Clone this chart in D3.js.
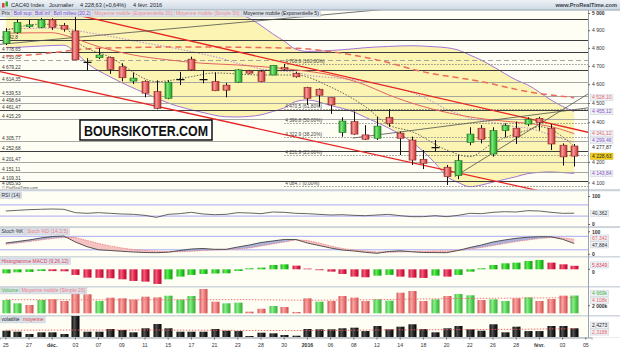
<!DOCTYPE html>
<html>
<head>
<meta charset="utf-8">
<title>CAC40 Index</title>
<script src="https://cdn.jsdelivr.net/npm/d3@7/dist/d3.min.js"></script>
<style>
  body { margin: 0; background: #fff; }
  svg { display: block; font-family: "Liberation Sans", Arial, sans-serif; }
</style>
</head>
<body>
<div class="canvas"></div>
<script>
//=============== data ===============//
const days = ['25/11','26/11','27/11','30/11','01/12','02/12','03/12','04/12','07/12','08/12',
  '09/12','10/12','11/12','14/12','15/12','16/12','17/12','18/12','21/12','22/12',
  '23/12','24/12','28/12','29/12','30/12','31/12','04/01','05/01','06/01','07/01',
  '08/01','11/01','12/01','13/01','14/01','15/01','18/01','19/01','20/01','21/01',
  '22/01','25/01','26/01','27/01','28/01','29/01','01/02','02/02','03/02','04/02','05/02'];

const open  = [4826,4886,4921,4917,4960,4927,4896,4722,4745,4747, 4695,4617,4615,4560,4525,4622,4737,4628,4615,4595,
               4611,4672,4668,4650,4690,4659,4582,4573,4528,4347, 4403,4335,4318,4425,4344,4309,4213,4273,4174,4133,
               4297,4369,4239,4357,4369,4390,4420,4369,4283,4279];
const high  = [4912,4964,4960,4971,4969,4942,4989,4742,4798,4751, 4714,4662,4621,4621,4621,4667,4751,4678,4664,4607,
               4682,4678,4678,4705,4710,4668,4586,4577,4530,4425, 4455,4385,4428,4468,4352,4326,4259,4309,4185,4234,
               4374,4385,4374,4394,4403,4425,4428,4390,4292,4289];
const low   = [4816,4879,4913,4912,4902,4892,4731,4674,4737,4656, 4615,4601,4530,4467,4520,4595,4672,4605,4563,4530,
               4607,4654,4611,4649,4674,4635,4490,4481,4443,4326, 4335,4309,4309,4376,4234,4185,4165,4251,4088,4116,
               4283,4292,4226,4323,4289,4380,4357,4259,4182,4177];
const close = [4892,4946,4931,4960,4917,4906,4733,4719,4760,4681, 4635,4633,4552,4472,4611,4625,4678,4625,4565,4568,
               4678,4660,4615,4703,4682,4640,4525,4541,4490,4406, 4339,4313,4380,4394,4318,4209,4193,4271,4128,4206,
               4339,4313,4357,4382,4326,4415,4398,4289,4225,4228.63];

// volume in millions
const volume = [3.5,2.63,2.18,3.5,3.68,3.24,5.42,5.0,3.24,4.1, 3.95,3.6,4.37,4.2,4.63,3.6,4.55,6.4,3.05,2.63,
                2.8,0.43,1.2,1.92,1.66,0.35,3.95,3.06,3.24,4.55, 4.12,3.24,3.68,3.33,5.42,5.87,3.24,3.68,4.55,5.08,
                4.74,3.51,3.68,3.24,3.95,4.2,3.24,3.77,4.64,4.669];
const volumeAvg = [[0,3.6],[10,3.55],[20,3.6],[26,3.45],[32,3.6],[38,3.85],[44,4.0],[49,4.108]];

const volatility = [1.76,1.48,0.84,1.31,1.31,0.84,5.87,1.48,1.48,2.23, 1.96,1.31,2.43,3.63,2.43,1.48,1.48,1.48,2.23,1.76,
                    1.66,0.28,1.2,1.03,0.56,0.36,2.23,2.15,2.15,2.43, 2.6,1.66,3.07,2.15,2.88,3.55,2.23,1.31,2.43,3.07,
                    2.15,1.76,3.55,1.31,2.88,1.66,1.66,3.07,3.07,2.4273];
const volatilityAvg = [[0,1.9],[10,1.95],[20,1.85],[26,1.8],[32,1.95],[38,2.05],[44,2.15],[49,2.3188]];

const macdHist = [-6.7,-5,-4.4,-2.8,-3,-3.3,-9.4,-13.9,-14.2,-15, -16.7,-19.4,-20.6,-24.4,-16.7,-12.2,-9.4,-7.8,-7,-6.7,
                  -2.8,1.7,2.8,7.2,8.3,6.1,1.2,-1.5,-3.9,-7.8, -12.2,-13.3,-10.6,-9.4,-12.2,-13.9,-14.4,-10.6,-12.2,-9.4,
                  -3.9,1.7,7.2,10,11.1,13.9,15.6,11.1,8.3,5.8349];

const rsi = [48.2,50.6,53,54.2,55.4,54.2,42.3,39.9,42.3,39.9, 37.5,36.3,32.7,25.6,36.3,38.7,43.5,37.5,35.1,36.3,
             42.3,41.1,38.7,44.6,43.5,39.9,38.7,36.3,33.9,35.1, 32.7,31.5,33.9,36.3,31.5,28,28,31.5,28,32.7,
             39.9,38.7,43.5,45.8,44.6,49.4,48.2,43.5,39.9,40.362];

const stochK = [50.2,56.9,63.6,72.4,79.1,81.3,54.7,33.8,20,16.9, 13.3,10.2,8,7.1,9.3,16.9,23.6,25.8,22.2,22.2,
                32.4,41.3,52.4,59.1,65.8,65.8,50.2,39.1,28,19.1, 14.7,8.9,4.4,12.4,15.6,11.1,8,7.6,7.1,16.9,
                30.2,41.3,54.7,63.6,71.1,75.6,78.2,77.8,66.7,47.884];
const stochD = [44.4,50.2,56.9,63.6,70.2,74.7,74.7,61.3,48,36.9, 28,21.3,16.9,13.3,11.6,11.1,13.8,16.9,19.1,21.3,
                23.6,28,36.9,45.8,54.7,63.6,61.3,50.2,36.9,25.8, 19.1,14.7,10.2,8.9,10.2,12.4,13.8,14.7,14.7,16.9,
                23.6,30.2,39.1,48,56.9,63.6,70.2,74.7,72.4,67.342];

// Bollinger (20,2) read on a common set of days
const bollIdx = [0,3,5,6,7,9,12,14,17,19,20,21,22,23,24,25,26,28,30,31,33,35,37,38,39,40,41,42,44,45,47,48,49];
const bollSup = [5010,5015,5010,5030,5060,5090,5105,5110,5080,5040,5000,4969,4927,4880,4838,4792,4780,4785,4795,4801,
                 4808,4812,4806,4801,4788,4760,4731,4696,4623,4596,4516,4482,4455.12];
const bollInf = [4800,4810,4815,4775,4715,4640,4552,4500,4450,4428,4427,4430,4438,4455,4474,4508,4516,4487,4453,4425,
                 4370,4299,4195,4130,4100,4080,4088,4102,4128,4143,4151,4148,4143.84];
const bollMid = [4905,4912,4912,4900,4888,4865,4828,4805,4765,4734,4713,4700,4683,4676,4670,4665,4650,4636,4624,4613,
                 4589,4556,4500,4466,4444,4420,4410,4399,4376,4370,4334,4315,4299.46];

const ema5  = [[0,4900],[3,4935],[5,4925],[6,4844],[9,4748],[13,4614],[16,4641],[18,4661],[22,4650],[25,4650],
               [28,4585],[31,4480],[33,4386],[35,4352],[38,4259],[40,4226],[42,4294],[45,4360],[46,4377],[49,4277.87]];
const ema20 = [[0,4883],[4,4886],[5,4873],[8,4807],[11,4760],[14,4733],[17,4714],[20,4705],[22,4696],[25,4678],
               [28,4650],[31,4596],[33,4543],[36,4481],[39,4438],[42,4411],[45,4394],[47,4377],[49,4341.12]];
const sma50 = [[0,4755],[2,4760],[7,4794],[8,4798],[16,4805],[25,4798],[28,4779],[32,4733],[36,4667],[41,4614],
               [45,4560],[49,4528.10]];

// support / resistance levels drawn on the chart
const levels = [4966,4842.8,4778.65,4733.05,4679.22,4614.35,4539.53,4498.64,4461.47,4415.29,
                4305.77,4252.68,4201.47,4151.11,4109.31,4065.93];
const levelLabels = ['','4 842,8','4 778,65','4 733,05','4 679,22','4 614,35','4 539,53','4 498,64','4 461,47','4 415,29',
                     '4 305,77','4 252,68','4 201,47','4 151,11','4 109,31','4 065,93'];

// Fibonacci retracement from the 30/12 high to the 20/01 low
const fibValues = [4708.9,4470.5,4396.8,4322.9,4231.9,4084.7];
const fibLabels = ['4 708,9 (100,00%)','4 470,5 (61,80%)','4 396,8 (50,00%)','4 322,9 (38,20%)','4 231,9 (23,60%)','4 084,7 (0,00%)'];

// trend lines: [day index, price] pairs
const redTrends  = [[[6.2,4988],[50.8,4340]], [[-0.5,4668],[46,4060]]];
const greyTrends = [[[-0.5,4820],[34,5030]], [[29.9,4319],[50.8,4479]], [[38.7,4128],[50.5,4560]]];

const tickDays   = ['25/11','27/11','01/12','03/12','07/12','09/12','11/12','15/12','17/12','21/12','23/12','28/12','30/12',
                    '04/01','06/01','08/01','12/01','14/01','18/01','20/01','22/01','26/01','28/01','01/02','03/02','05/02'];
const tickLabels = ['25','27','déc.','03','07','09','11','15','17','21','23','28','30',
                    '2016','06','08','12','14','18','20','22','26','28','févr.','03','05'];
const priceTicks = [5000,4900,4800,4700,4600,4500,4400,4200,4100];

//=============== set up ===============//
const W = 620, H = 349, plotR = 588;
const svg = d3.select('.canvas').append('svg').attr('width', W).attr('height', H);
const fr = d3.formatLocale({ decimal: ',', thousands: '\u00a0', grouping: [3], currency: ['', ''] });
const fmt0 = fr.format(',.0f');

const panels = {
  main: [10.5, 189.5], rsi: [191.5, 226.5], stoch: [228, 256.5],
  macd: [257.5, 286.5], vol: [287.5, 315.5], vola: [316.5, 337.5]
};

const x = d3.scaleBand().domain(days).range([0, days.length * 11.6]).padding(0);
const xc = i => x(days[i]) + x.bandwidth() / 2;
const xIdx = d3.scaleLinear().domain([0, days.length - 1]).range([xc(0), xc(days.length - 1)]);

const yMain = d3.scaleLog().domain([4100, 5000]).range([182.5, 13]);
const yRsi  = d3.scaleLinear().domain([0, 100]).range([224.5, 196.5]);
const ySto  = d3.scaleLinear().domain([0, 100]).range([254.3, 231.8]);
const yMacd = d3.scaleLinear().domain([-25, 15]).range([284.3, 260.3]);
const yVol  = d3.scaleLinear().domain([0, 7]).range([313.3, 286.7]);
const yVola = d3.scaleLinear().domain([0, 6]).range([337, 315.5]);

const defs = svg.append('defs');
function hGrad(id, stops) {
  const g = defs.append('linearGradient').attr('id', id).attr('x1', 0).attr('x2', 1).attr('y1', 0).attr('y2', 0);
  stops.forEach((c, k) => g.append('stop').attr('offset', k / (stops.length - 1)).attr('stop-color', c));
}
hGrad('gGreen', ['#2c9a2c', '#7ee87e', '#45c845', '#2a952a']);
hGrad('gRed', ['#c23a3a', '#f49a9a', '#e46262', '#b83434']);
hGrad('vGreen', ['#3fb83f', '#8cf08c', '#55d055', '#3aa83a']);
hGrad('vRed', ['#d05050', '#f8a8a8', '#ee7a7a', '#c84848']);
hGrad('mGreen', ['#1faa1f', '#66ee55', '#22cc22', '#159515']);
hGrad('mRed', ['#c0103a', '#f2607a', '#e0204a', '#b00a30']);
hGrad('kBlack', ['#000', '#555', '#222', '#000']);
const tg = defs.append('linearGradient').attr('id', 'gTitle').attr('x1', 0).attr('x2', 0).attr('y1', 0).attr('y2', 1);
tg.append('stop').attr('offset', 0).attr('stop-color', '#eef2f6');
tg.append('stop').attr('offset', 1).attr('stop-color', '#cdd8e3');
defs.append('clipPath').attr('id', 'clipMain').append('rect')
  .attr('x', 0).attr('y', panels.main[0]).attr('width', plotR).attr('height', panels.main[1] - panels.main[0]);

// backgrounds
svg.append('rect').attr('width', W).attr('height', H).attr('fill', '#e3e8ee');
Object.values(panels).forEach(([t, b]) => {
  svg.append('rect').attr('x', 0).attr('y', t).attr('width', plotR).attr('height', b - t)
    .attr('fill', '#fefef4');
  svg.append('rect').attr('x', plotR).attr('y', t).attr('width', W - plotR).attr('height', b - t)
    .attr('fill', '#ffffff');
  svg.append('line').attr('x1', 0).attr('x2', W).attr('y1', b + 0.5).attr('y2', b + 0.5).attr('stroke', '#b4bcc6');
});
svg.append('rect').attr('x', 0).attr('y', 337.5).attr('width', W).attr('height', 11.5).attr('fill', '#fff');
svg.append('line').attr('x1', plotR + 0.5).attr('x2', plotR + 0.5).attr('y1', 10).attr('y2', 338).attr('stroke', '#9aa2ac');

// title bar
svg.append('rect').attr('width', W).attr('height', 10).attr('fill', 'url(#gTitle)');
svg.append('line').attr('x1', 0).attr('x2', W).attr('y1', 10).attr('y2', 10).attr('stroke', '#9aa8b6');
svg.append('rect').attr('x', 2).attr('y', 3).attr('width', 2.5).attr('height', 4.5).attr('fill', '#e04040');
svg.append('rect').attr('x', 5.5).attr('y', 1.5).attr('width', 2.5).attr('height', 5).attr('fill', '#30b030');
const title = svg.append('g').attr('font-size', 5.6).attr('fill', '#1d2630');
[['CAC40 Index', 11], ['Journalier', 49], ['4 228,63 (+0,64%)', 80], ['4 févr. 2016', 133]]
  .forEach(([t, px]) => title.append('text').attr('x', px).attr('y', 7).text(t));
svg.append('text').attr('x', 617).attr('y', 7.2).attr('text-anchor', 'end').attr('font-size', 5.6)
  .attr('font-weight', 'bold').attr('fill', '#3a4350').text('www.ProRealTime.com');

//=============== main price panel ===============//
const gMain = svg.append('g').attr('clip-path', 'url(#clipMain)');
const line = (sx, sy) => d3.line().x(d => sx(d[0])).y(d => sy(d[1]));

// Bollinger fill and bands
const bk = d3.range(bollIdx.length);
gMain.append('path').datum(bk)
  .attr('d', d3.area().curve(d3.curveMonotoneX).x(k => xc(bollIdx[k]))
    .y0(k => yMain(bollInf[k])).y1(k => yMain(bollSup[k])))
  .attr('fill', '#fcf4b2');
[bollSup, bollInf].forEach(arr => gMain.append('path').datum(bk)
  .attr('d', d3.line().curve(d3.curveMonotoneX).x(k => xc(bollIdx[k])).y(k => yMain(arr[k])))
  .attr('fill', 'none').attr('stroke', '#a374d6').attr('stroke-width', 1));
gMain.append('path').datum(bk)
  .attr('d', d3.line().curve(d3.curveMonotoneX).x(k => xc(bollIdx[k])).y(k => yMain(bollMid[k])))
  .attr('fill', 'none').attr('stroke', '#b48ad8').attr('stroke-width', 1).attr('stroke-dasharray', '1.5,1.5');

// horizontal levels
const darkLevels = new Set([4966, 4842.8, 4778.65, 4679.22, 4461.47, 4252.68, 4109.31]);
levels.forEach((v, k) => {
  const yy = Math.round(yMain(v)) + 0.5;
  gMain.append('line').attr('x1', 0).attr('x2', plotR).attr('y1', yy).attr('y2', yy)
    .attr('stroke', v === 4733.05 ? '#9a9a9a' : darkLevels.has(v) ? '#3c3c3c' : '#9c9c9c')
    .attr('stroke-width', darkLevels.has(v) ? 1 : 0.9)
    .attr('stroke-dasharray', v === 4733.05 ? '5,3' : null);
  if (levelLabels[k]) gMain.append('text').attr('x', 2).attr('y', Math.min(yy - 1.6, 185))
    .attr('font-size', 4.8).attr('fill', '#333').text(levelLabels[k]);
});

// Fibonacci
fibValues.forEach((v, k) => {
  const yy = Math.round(yMain(v)) + 0.5;
  gMain.append('line').attr('x1', xc(24)).attr('x2', plotR).attr('y1', yy).attr('y2', yy)
    .attr('stroke', '#777').attr('stroke-width', 0.8).attr('stroke-dasharray', '1.5,1.5');
  gMain.append('text').attr('x', xc(24) + 1).attr('y', yy - 1.6).attr('font-size', 4.8)
    .attr('fill', '#444').text(fibLabels[k]);
});

// moving averages
gMain.append('path').datum(sma50).attr('d', line(xIdx, yMain).curve(d3.curveMonotoneX))
  .attr('fill', 'none').attr('stroke', '#ec6a5e').attr('stroke-width', 1.5).attr('stroke-dasharray', '6,4');
gMain.append('path').datum(ema20).attr('d', line(xIdx, yMain).curve(d3.curveMonotoneX))
  .attr('fill', 'none').attr('stroke', '#e46464').attr('stroke-width', 1);
gMain.append('path').datum(ema5).attr('d', line(xIdx, yMain).curve(d3.curveMonotoneX))
  .attr('fill', 'none').attr('stroke', '#555').attr('stroke-width', 0.9).attr('stroke-dasharray', '1.5,1.5');

// trend lines
redTrends.forEach(t => gMain.append('path').datum(t).attr('d', line(xIdx, yMain))
  .attr('stroke', '#e82424').attr('stroke-width', 1.3).attr('fill', 'none'));
greyTrends.forEach(t => gMain.append('path').datum(t).attr('d', line(xIdx, yMain))
  .attr('stroke', '#505050').attr('stroke-width', 0.8).attr('fill', 'none'));

// candles
const candle = gMain.selectAll('g.candle').data(d3.range(close.length)).join('g').attr('class', 'candle');
candle.append('line')
  .attr('x1', i => Math.round(xc(i)) + 0.5).attr('x2', i => Math.round(xc(i)) + 0.5)
  .attr('y1', i => yMain(high[i])).attr('y2', i => yMain(low[i]))
  .attr('stroke', '#111').attr('stroke-width', 1);
candle.each(function (i) {
  const g = d3.select(this);
  const yo = yMain(open[i]), yc = yMain(close[i]);
  const cx = Math.round(xc(i)) + 0.5;
  if (Math.abs(yo - yc) < 1) {
    g.append('line').attr('x1', cx - 4).attr('x2', cx + 4).attr('y1', yc).attr('y2', yc)
      .attr('stroke', '#111').attr('stroke-width', 1.2);
  } else {
    const up = close[i] > open[i];
    g.append('rect').attr('x', cx - 3.5).attr('width', 7)
      .attr('y', Math.min(yo, yc)).attr('height', Math.abs(yo - yc))
      .attr('fill', up ? 'url(#gGreen)' : 'url(#gRed)')
      .attr('stroke', up ? '#1f6f1f' : '#8a2222').attr('stroke-width', 0.6);
  }
});

// watermark
svg.append('rect').attr('x', 80).attr('y', 120).attr('width', 132).attr('height', 20)
  .attr('fill', '#fff').attr('stroke', '#111').attr('stroke-width', 1.5);
svg.append('text').attr('x', 84).attr('y', 136).attr('font-size', 15).attr('font-weight', 'bold')
  .attr('textLength', 124).attr('lengthAdjust', 'spacingAndGlyphs').attr('fill', '#111').text('BOURSIKOTER.COM');
svg.append('text').attr('x', 2).attr('y', 189.2).attr('font-size', 4).attr('fill', '#555').text('© ProRealTime.com');

//=============== RSI ===============//
const gRsi = svg.append('g');
[70, 30].forEach(v => gRsi.append('line').attr('x1', 0).attr('x2', plotR)
  .attr('y1', yRsi(v)).attr('y2', yRsi(v)).attr('stroke', '#a8a8f4').attr('stroke-width', 1));
gRsi.append('path').datum(rsi).attr('d', d3.line().x((d, i) => xc(i)).y(d => yRsi(d)))
  .attr('fill', 'none').attr('stroke', '#555').attr('stroke-width', 0.9);

//=============== Stochastic ===============//
const gSto = svg.append('g');
[80, 20].forEach(v => gSto.append('line').attr('x1', 0).attr('x2', plotR)
  .attr('y1', ySto(v)).attr('y2', ySto(v)).attr('stroke', '#a8a8f4').attr('stroke-width', 1));
const sk = d3.range(stochK.length);
gSto.append('path').datum(sk)
  .attr('d', d3.area().x(i => xc(i)).y0(i => ySto(stochD[i])).y1(i => ySto(Math.max(stochK[i], stochD[i]))))
  .attr('fill', '#9da4d6').attr('opacity', 0.85);
gSto.append('path').datum(sk)
  .attr('d', d3.area().x(i => xc(i)).y0(i => ySto(stochK[i])).y1(i => ySto(Math.max(stochK[i], stochD[i]))))
  .attr('fill', '#f4bcbc').attr('opacity', 0.9);
gSto.append('path').datum(stochD).attr('d', d3.line().x((d, i) => xc(i)).y(d => ySto(d)))
  .attr('fill', 'none').attr('stroke', '#ee8080').attr('stroke-width', 0.9).attr('stroke-dasharray', '1.5,1');
gSto.append('path').datum(stochK).attr('d', d3.line().x((d, i) => xc(i)).y(d => ySto(d)))
  .attr('fill', 'none').attr('stroke', '#444').attr('stroke-width', 0.9);

//=============== MACD histogram ===============//
const gMacd = svg.append('g');
gMacd.selectAll('rect').data(macdHist).join('rect')
  .attr('x', (d, i) => Math.round(xc(i)) - 3.5).attr('width', 8)
  .attr('y', d => Math.min(yMacd(d), yMacd(0))).attr('height', d => Math.abs(yMacd(d) - yMacd(0)))
  .attr('fill', (d, i) => (i === 0 || d >= macdHist[i - 1]) ? 'url(#mGreen)' : 'url(#mRed)');

//=============== Volume ===============//
const gVol = svg.append('g');
gVol.selectAll('rect').data(volume).join('rect')
  .attr('x', (d, i) => Math.round(xc(i)) - 3.5).attr('width', 8)
  .attr('y', d => yVol(d)).attr('height', d => yVol(0) - yVol(d))
  .attr('fill', (d, i) => (i === 0 || close[i] >= close[i - 1]) ? 'url(#vGreen)' : 'url(#vRed)');
gVol.append('path').datum(volumeAvg).attr('d', line(xIdx, yVol).curve(d3.curveMonotoneX))
  .attr('fill', 'none').attr('stroke', '#ee6a6a').attr('stroke-width', 0.9).attr('stroke-dasharray', '1.5,1.5');

//=============== Volatility ===============//
const gVola = svg.append('g');
gVola.selectAll('rect').data(volatility).join('rect')
  .attr('x', (d, i) => Math.round(xc(i)) - 3.5).attr('width', 8)
  .attr('y', d => yVola(d)).attr('height', d => yVola(0) - yVola(d))
  .attr('fill', 'url(#kBlack)');
gVola.append('path').datum(volatilityAvg).attr('d', line(xIdx, yVola).curve(d3.curveMonotoneX))
  .attr('fill', 'none').attr('stroke', '#ee5a5a').attr('stroke-width', 0.9).attr('stroke-dasharray', '1.5,1.5');

//=============== legends ===============//
function legend(y0, items) {
  const g = svg.append('g');
  let px = 0;
  items.forEach(([txt, col]) => {
    const t = g.append('text').attr('x', px + 1.5).attr('y', y0 + 4.9).attr('font-size', 5).attr('fill', col).text(txt);
    const w = t.node().getComputedTextLength() + 3;
    g.insert('rect', () => t.node()).attr('x', px).attr('y', y0).attr('width', w).attr('height', 6.4)
      .attr('fill', '#dbe2eb').attr('stroke', '#c2cad4').attr('stroke-width', 0.5);
    px += w + 0.5;
  });
}
legend(10.5, [['Prix', '#333'], ['Boll sup', '#8048c8'], ['Boll inf', '#8048c8'], ['Boll milieu (20,2)', '#8048c8'],
  ['Moyenne mobile (Exponentielle 20)', '#f08a8a'], ['Moyenne mobile (Simple 50)', '#f08a8a'],
  ['Moyenne mobile (Exponentielle 5)', '#222']]);
legend(192, [['RSI (14)', '#333']]);
legend(228.5, [['Stoch %K', '#333'], ['Stoch %D (14,3,5)', '#f07a7a']]);
legend(258, [['Histogramme MACD (9,26,12)', '#e0405a']]);
legend(287.5, [['Volume', '#3cb43c'], ['Moyenne mobile (Simple 20)', '#f07a7a']]);
legend(316.5, [['volatilité', '#222'], ['moyenne', '#e04040']]);

//=============== right axes ===============//
const axisMain = svg.append('g').attr('transform', `translate(${plotR},0)`)
  .call(d3.axisRight(yMain).tickValues(priceTicks).tickFormat(fmt0).tickSize(2));
axisMain.select('.domain').remove();
axisMain.selectAll('text').attr('font-size', 5).attr('fill', '#333').attr('x', 4)
  .attr('font-weight', d => d === 5000 ? 'bold' : null);
axisMain.selectAll('line').attr('stroke', '#666');

function simpleTicks(scale, vals, labels, dy) {
  vals.forEach((v, k) => {
    svg.append('line').attr('x1', plotR).attr('x2', plotR + 2).attr('y1', scale(v)).attr('y2', scale(v)).attr('stroke', '#666');
    svg.append('text').attr('x', plotR + 4).attr('y', scale(v) + 1.8 + (dy || 0)).attr('font-size', 5)
      .attr('font-weight', 'bold').attr('fill', '#333').text(labels[k]);
  });
}
simpleTicks(yRsi, [100, 0], ['100', '0']);
simpleTicks(ySto, [100, 0], ['100', '0']);
simpleTicks(yMacd, [0], ['0'], 2.6);
simpleTicks(yVol, [2], ['2 000k']);

// value tags on the right; dy nudges a tag off a neighbouring tick label
function valueBoxes(items) {
  items.forEach(d => { d.y = d.scale(d.v) + (d.dy || 0); });
  items.sort((a, b) => a.y - b.y);
  for (let it = 0; it < 6; it++) {
    for (let k = 1; k < items.length; k++) {
      const gap = items[k].y - items[k - 1].y;
      if (gap < 6.8) { const m = (6.8 - gap) / 2; items[k].y += m; items[k - 1].y -= m; }
    }
  }
  items.forEach(d => {
    const t = svg.append('text').attr('x', plotR + 4).attr('y', d.y + 1.8).attr('font-size', 5)
      .attr('fill', d.color).text(d.text);
    const w = t.node().getComputedTextLength() + 3;
    svg.insert('rect', () => t.node()).attr('x', plotR + 2.5).attr('y', d.y - 3).attr('width', w).attr('height', 6.2)
      .attr('fill', d.bg || '#eef1f5').attr('stroke', d.border || '#c8ced6').attr('stroke-width', 0.5);
  });
}
const fmt2 = fr.format(',.2f');
valueBoxes([
  { v: 4528.10, text: fmt2(4528.10), color: '#e86a6a', scale: yMain },
  { v: 4455.12, text: fmt2(4455.12), color: '#8a50c8', scale: yMain },
  { v: 4341.12, text: fmt2(4341.12), color: '#e86a6a', scale: yMain },
  { v: 4299.46, text: fmt2(4299.46), color: '#8a50c8', scale: yMain },
  { v: 4277.87, text: fmt2(4277.87), color: '#222', scale: yMain, bg: '#fff', border: '#fff' },
  { v: 4228.63, text: fmt2(4228.63), color: '#222', scale: yMain, bg: '#f2cf1c', border: '#c9a800' },
  { v: 4143.84, text: fmt2(4143.84), color: '#8a50c8', scale: yMain }
]);
valueBoxes([{ v: 40.362, text: '40,362', color: '#333', scale: yRsi }]);
valueBoxes([{ v: 67.342, text: '67,342', color: '#e86a6a', scale: ySto },
            { v: 47.884, text: '47,884', color: '#333', scale: ySto }]);
valueBoxes([{ v: 5.8349, text: '5,8349', color: '#e0405a', scale: yMacd, dy: -1 }]);
valueBoxes([{ v: 4.669, text: '4 669k', color: '#3cb43c', scale: yVol },
            { v: 4.108, text: '4 108k', color: '#e86a6a', scale: yVol }]);
valueBoxes([{ v: 2.4273, text: '2,4273', color: '#222', scale: yVola },
            { v: 2.3188, text: '2,3188', color: '#e86a6a', scale: yVola }]);

//=============== date axis ===============//
const xAxisG = svg.append('g').attr('transform', 'translate(0,337.5)')
  .call(d3.axisBottom(x).tickValues(tickDays).tickFormat((d, k) => tickLabels[k]).tickSize(2));
xAxisG.select('.domain').attr('stroke', '#9aa2ac');
xAxisG.selectAll('line').attr('stroke', '#666');
xAxisG.selectAll('text').attr('font-size', 5.2).attr('fill', '#333').attr('dy', '0.9em')
  .attr('font-weight', (d, k) => ['déc.', '2016', 'févr.'].includes(tickLabels[k]) ? 'bold' : null);
</script>
</body>
</html>
